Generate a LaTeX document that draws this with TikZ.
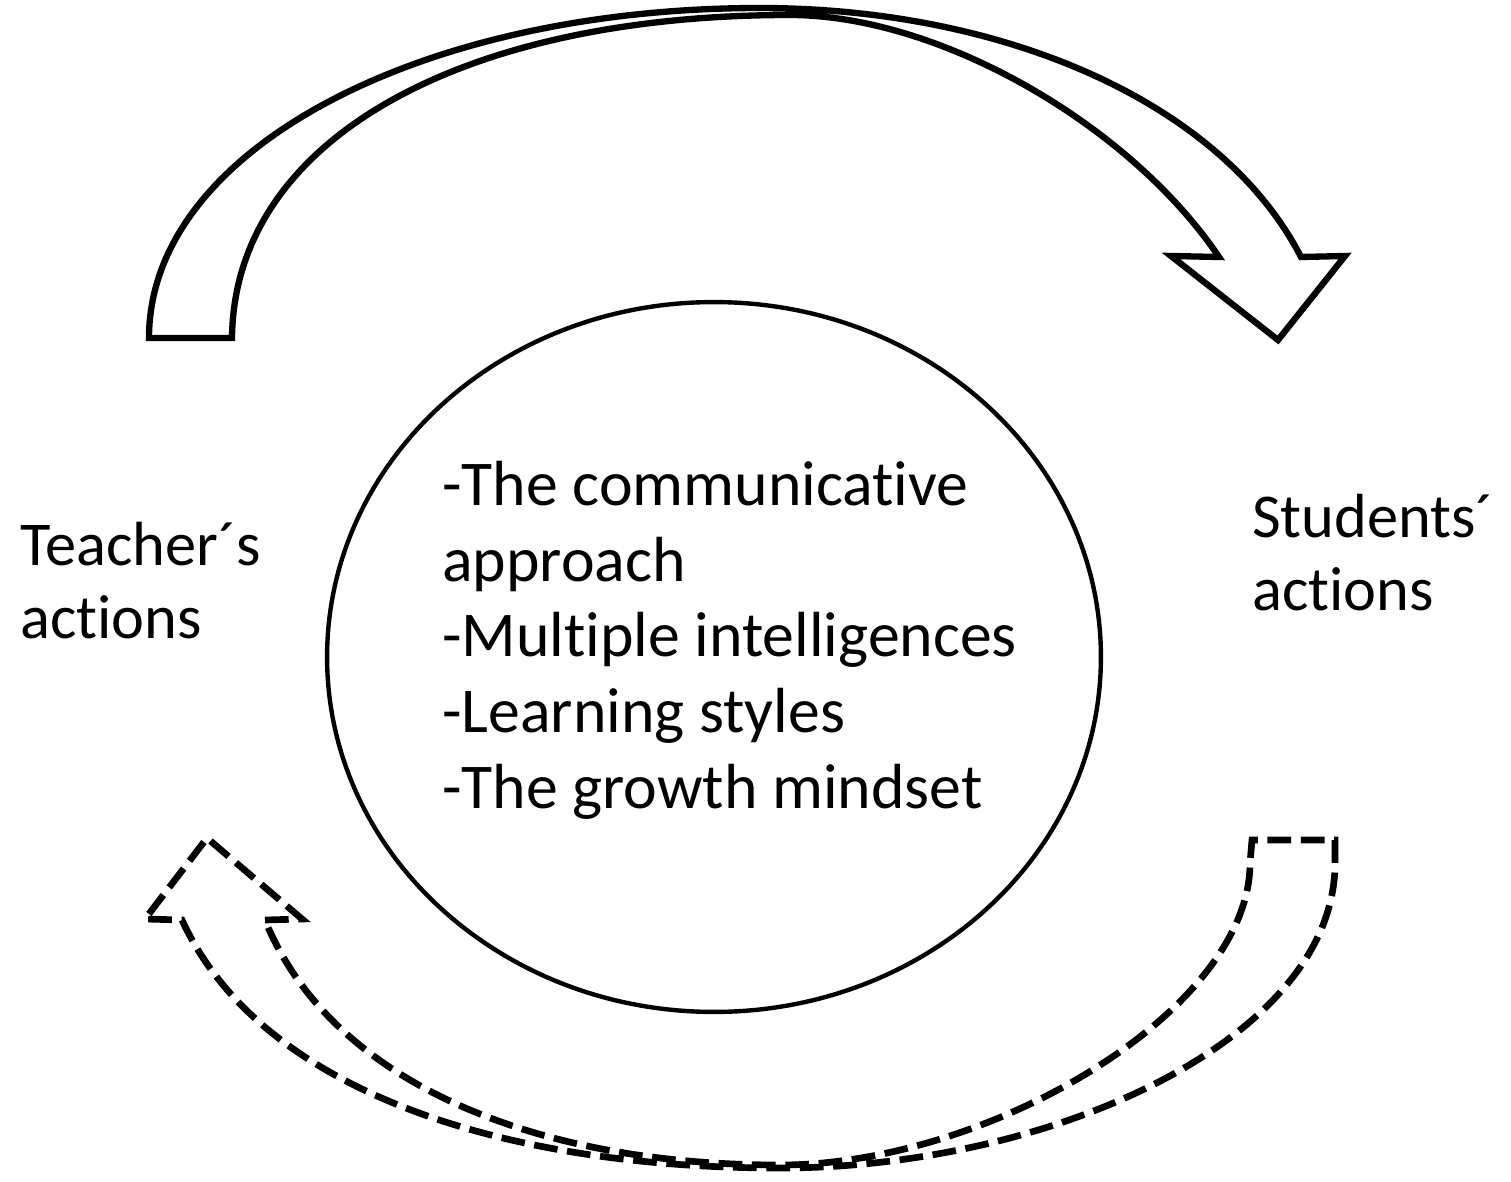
\documentclass[tikz,border=0pt]{standalone}
\usepackage{fontspec}
\setmainfont{Carlito}[RawFeature=-liga]
\usetikzlibrary{shapes, positioning}

\begin{document}
\begin{tikzpicture}[x=0.02cm,y=-0.02cm,
         block arrow/.style={draw,line width=3.6pt,miter limit=10,fill=white},
         dash arrow/.style={draw,line width=3.8pt,dash pattern=on 13.5pt off 5.5pt},
         theory node/.style={ellipse,draw,line width=2.5pt,minimum width=15.48cm,minimum height=14.2cm},
         label node/.style={align=left,anchor=base west,inner sep=0pt}]
 \useasboundingbox (0,0) rectangle (1511,1182);

       % centre ellipse and its list
       \node[theory node] (theory) at (714,657) {};
       \node[label node,font=\fontsize{36.3}{43}\selectfont] (list) at (442,808)
         {-The communicative\\approach\\-Multiple intelligences\\-Learning styles\\-The growth mindset};

       % side labels
       \node[label node,font=\fontsize{35.5}{41}\selectfont] (teacher) at (20,638) {Teacher´s\\actions};
       \node[label node,font=\fontsize{35.5}{41}\selectfont] (students) at (1252,610) {Students´\\actions};

       % solid curved arrow on top
       \path[block arrow] (149,338) -- (232,338)
         .. controls (234,140) and (460,15) .. (790,15)
         .. controls (940,15) and (1130,125) .. (1219,257)
         -- (1171,256) -- (1278,340) -- (1345,256) -- (1301,257)
         .. controls (1220,100) and (1000,8) .. (760,8)
         .. controls (420,8) and (149,150) .. (149,338) -- cycle;

       % dashed curved arrow below
       \path[dash arrow] (265,920) -- (302,919) -- (207,838) -- (145,919) -- (182,920)
         .. controls (260,1090) and (500,1168) .. (780,1168)
         .. controls (1050,1168) and (1335,1040) .. (1335,863)
         -- (1335,840) -- (1252,840) -- (1250,863)
         .. controls (1250,1010) and (990,1165) .. (780,1165)
         .. controls (530,1165) and (330,1080) .. (265,920) -- cycle;
\end{tikzpicture}
\end{document}
